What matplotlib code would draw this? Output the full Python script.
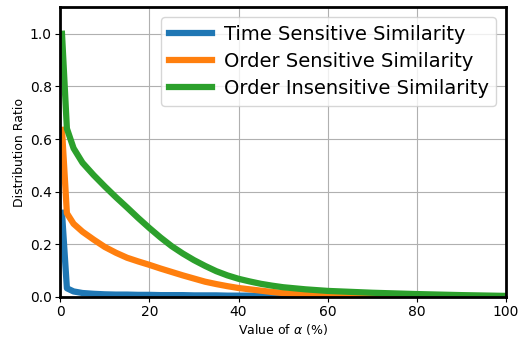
import matplotlib
matplotlib.use('Agg')
import matplotlib.pyplot as plt

alpha = [0.4, 1.5, 3, 5, 7.5, 10, 12.5, 15, 17.5, 20, 22.5, 25, 27.5, 30, 32.5, 35,
         37.5, 40, 42.5, 45, 47.5, 50, 55, 60, 70, 80, 90, 100]
time_sensitive = [0.32, 0.033, 0.021, 0.015, 0.012, 0.01, 0.009, 0.009, 0.008, 0.008,
                  0.007, 0.007, 0.007, 0.006, 0.006, 0.006, 0.005, 0.005, 0.005, 0.004,
                  0.004, 0.003, 0.002, 0.002, 0.001, 0.001, 0.0005, 0.0]
order_sensitive = [0.635, 0.318, 0.278, 0.248, 0.218, 0.19, 0.168, 0.149, 0.135, 0.122,
                   0.108, 0.095, 0.082, 0.07, 0.058, 0.049, 0.041, 0.034, 0.029, 0.024,
                   0.019, 0.015, 0.009, 0.004, 0.001, 0.0005, 0.0, 0.0]
order_insensitive = [1.0, 0.64, 0.565, 0.51, 0.463, 0.42, 0.379, 0.34, 0.3, 0.262,
                     0.226, 0.193, 0.165, 0.14, 0.118, 0.098, 0.082, 0.069, 0.059, 0.05,
                     0.043, 0.037, 0.029, 0.023, 0.016, 0.011, 0.007, 0.004]
labels = ['Time Sensitive Similarity', 'Order Sensitive Similarity', 'Order Insensitive Similarity']

fig = plt.figure(figsize=(5.19, 3.39), dpi=100)
ax = fig.add_axes([0.116, 0.124, 0.859, 0.854])

ax.plot(alpha, time_sensitive, c='#1f77b4', lw=4.5, label=labels[0])
ax.plot(alpha, order_sensitive, c='#ff7f0e', lw=4.5, label=labels[1])
ax.plot(alpha, order_insensitive, c='#2ca02c', lw=4.5, label=labels[2])

ax.set_xlim(0, 100)
ax.set_ylim(0, 1.1)
ax.grid(True, color='#b0b0b0', lw=0.8)
ax.set_axisbelow(True)
for s in ax.spines.values():
    s.set_linewidth(2)
    s.set_color('black')
ax.tick_params(labelsize=10, pad=2.5)
ax.set_xlabel(r'Value of $\alpha$ (%)', fontsize=9, labelpad=2)
ax.set_ylabel('Distribution Ratio', fontsize=9, labelpad=3)
ax.legend(loc='upper right', fontsize=14, handlelength=2.2, borderaxespad=0.5,
          labelspacing=0.42, handletextpad=0.6)

fig.savefig('out.png', dpi=100)
